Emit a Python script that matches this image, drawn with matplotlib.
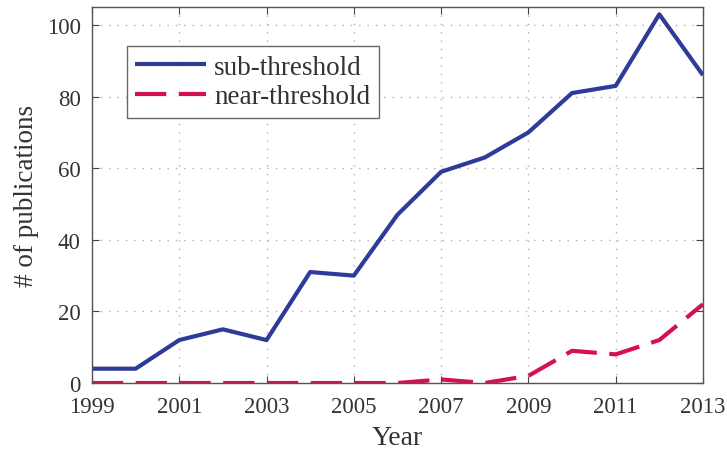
import matplotlib
matplotlib.use("Agg")
import matplotlib.pyplot as plt

years = [1999, 2000, 2001, 2002, 2003, 2004, 2005, 2006, 2007, 2008, 2009, 2010, 2011, 2012, 2013]
sub_threshold = [4, 4, 12, 15, 12, 31, 30, 47, 59, 63, 70, 81, 83, 103, 86]
near_threshold = [0, 0, 0, 0, 0, 0, 0, 0, 1, 0, 2, 9, 8, 12, 22]
xticks = [1999, 2001, 2003, 2005, 2007, 2009, 2011, 2013]
yticks = [0, 20, 40, 60, 80, 100]

plt.rcParams['font.family'] = ['Liberation Serif', 'DejaVu Serif']

fig = plt.figure(figsize=(7.27, 4.52), dpi=100)
ax = fig.add_axes([0.1265, 0.1504, 0.8404, 0.8316])

ax.plot(years, sub_threshold, color='#2f3b98', lw=3.0, label='sub-threshold', solid_capstyle='butt')
ax.plot(years, near_threshold, color='#d4124e', lw=3.0, ls=(0, (7.5, 3)), label='near-threshold',
        dash_capstyle='butt')

ax.set_xlim(1999, 2013)
ax.set_ylim(0, 105)
ax.set_xticks(xticks)
ax.set_yticks(yticks)
ax.tick_params(direction='in', top=True, right=True, labelsize=16.5, length=5, color='#444444',
               labelcolor='#333333')
ax.tick_params(axis='x', pad=9)
ax.tick_params(axis='y', pad=8)
ax.grid(True, ls=(0, (1, 5)), color='#b0b0b0', lw=1)
for s in ax.spines.values():
    s.set_color('#555555')
    s.set_linewidth(1)

ax.set_xlabel('Year', fontsize=20, color='#333333', labelpad=6)
ax.set_ylabel('# of publications', fontsize=19.5, color='#333333', labelpad=6)

leg = ax.legend(loc='upper left', bbox_to_anchor=(0.057, 0.897), fontsize=19.5, frameon=True,
                fancybox=False, edgecolor='#444444', handlelength=2.6, borderpad=0.32,
                labelspacing=0.18, handletextpad=0.3, borderaxespad=0)
leg.get_frame().set_linewidth(1)
for t in leg.get_texts():
    t.set_color('#333333')

fig.savefig('out.png', dpi=100)
